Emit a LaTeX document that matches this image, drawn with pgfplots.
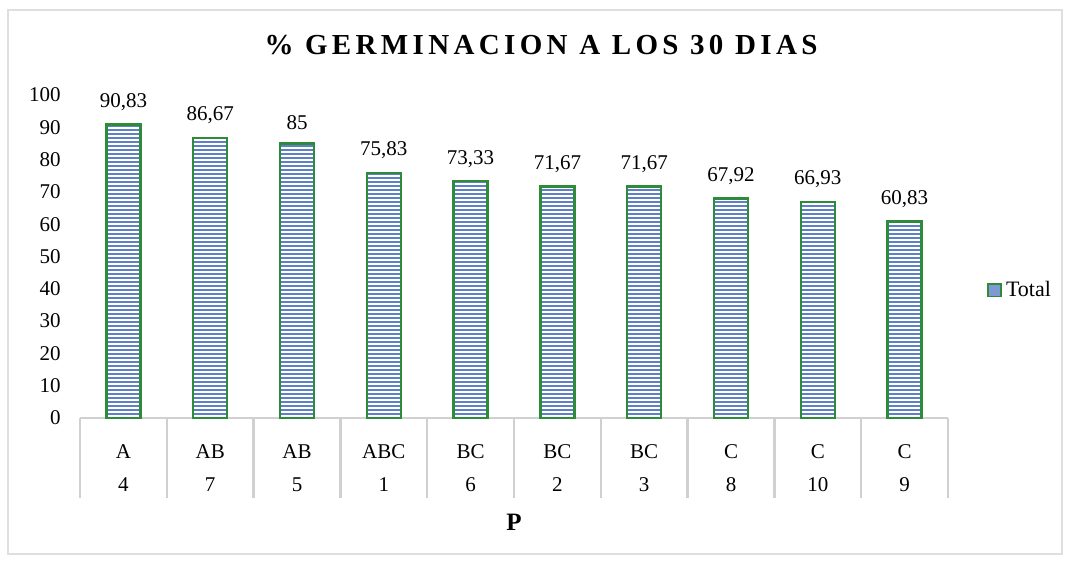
\documentclass[border=0pt]{standalone}
\usepackage{fontspec}
\setmainfont{Liberation Serif}
\newfontfamily\titlefont[LetterSpace=15]{Liberation Serif}
\usepackage{pgfplots}
\pgfplotsset{compat=1.18}
\usepackage{pgfplotstable}
\usetikzlibrary{patterns.meta}

\definecolor{barblue}{HTML}{5F80C8}
\definecolor{bargreen}{HTML}{2E8B3A}
\definecolor{linegray}{HTML}{D0D0D0}

% % germinacion por tratamiento
\pgfplotstableread{
x y lab
0 90.83 90,83
1 86.67 86,67
2 85 85
3 75.83 75,83
4 73.33 73,33
5 71.67 71,67
6 71.67 71,67
7 67.92 67,92
8 66.93 66,93
9 60.83 60,83
}\germ

\begin{document}
\begin{tikzpicture}
\useasboundingbox (-40pt,-73pt) rectangle (495pt,209pt);
\draw[gray!25, line width=0.8pt] (-36pt,-68pt) rectangle (491pt,204pt);
\begin{axis}[
    scale only axis,
    width=434pt, height=161.5pt,
    xmin=-0.5, xmax=9.5,
    ymin=0, ymax=100,
    ybar, bar width=17pt, bar shift=0pt,
    axis y line=left, axis x line=bottom,
    y axis line style={draw=none},
    x axis line style={linegray, line width=1.2pt, -},
    ytick={0,10,...,100}, ytick style={draw=none},
    yticklabel style={font=\fontsize{10.5}{12}\selectfont, xshift=-4pt},
    xtick={0,...,9},
    xticklabels={{A\\4},{AB\\7},{AB\\5},{ABC\\1},{BC\\6},{BC\\2},{BC\\3},{C\\8},{C\\10},{C\\9}},
    xtick style={draw=none},
    xticklabel style={align=center, font=\fontsize{10.5}{16.5}\selectfont, yshift=-7.5pt},
    /pgf/number format/assume math mode=true,
    clip=false,
    legend style={at={(1.038,0.396)}, anchor=west, draw=none, fill=none,
        font=\fontsize{11}{13}\selectfont},
    legend image code/.code={\draw[fill=barblue!80, draw=bargreen, line width=0.8pt] (0pt,-3.2pt) rectangle (6.5pt,3.2pt);},
]
% fondo azul de las barras
\addplot[fill=barblue, draw=none, forget plot] table[x=x, y=y] {\germ};
% rayas blancas, borde verde y etiquetas
\addplot[draw=bargreen, line width=1.2pt,
    pattern={Lines[angle=0,distance=2pt,line width=0.6pt]}, pattern color=white,
    nodes near coords, point meta=explicit symbolic,
    nodes near coords style={font=\fontsize{10.5}{12}\selectfont, yshift=3pt}]
    table[x=x, y=y, meta=lab] {\germ};
\addlegendentry{Total}
\end{axis}
\foreach \i in {0,...,10}
    \draw[linegray, line width=1.2pt] (\i*43.4pt,0pt) -- (\i*43.4pt,-40pt);
\node at (230.5pt,186.5pt) {\titlefont\bfseries\fontsize{14.5}{17}\selectfont \% GERMINACION A LOS 30 DIAS};
\node at (217pt,-52pt) {\fontsize{12.5}{14}\selectfont\bfseries P};
\end{tikzpicture}
\end{document}
